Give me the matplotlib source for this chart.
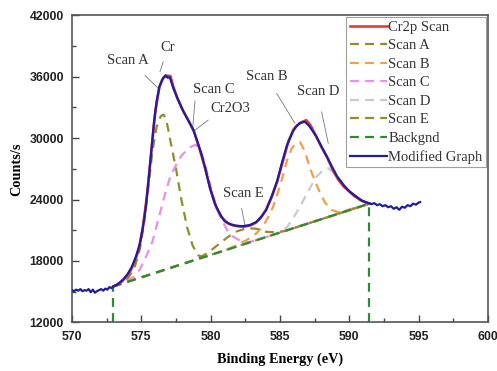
import matplotlib
matplotlib.use("Agg")
import matplotlib.pyplot as plt
from matplotlib.ticker import MultipleLocator

# ---------------- data ----------------
fit_x = [570.0, 570.15, 570.3, 570.45, 570.6, 570.75, 570.9, 571.05, 571.2, 571.35, 571.5,
         571.65, 571.8, 571.95, 572.1, 572.25, 572.4, 572.55, 572.7, 572.85, 573.0, 573.2,
         573.4, 573.7, 574.0, 574.3, 574.6, 574.9, 575.1, 575.3, 575.5, 575.7, 575.9, 576.1,
         576.3, 576.5, 576.75, 576.9, 577.05, 577.3, 577.6, 578.0, 578.4, 578.75, 579.0,
         579.3, 579.6, 579.95, 580.3, 580.7, 581.0, 581.4, 581.8, 582.3, 582.8, 583.3, 583.7,
         584.0, 584.4, 584.8, 585.1, 585.5, 585.9, 586.2, 586.5, 586.8, 587.1, 587.6, 588.1,
         588.6, 589.1, 589.6, 590.0, 590.5, 590.9, 591.3, 591.6, 591.8, 592.0, 592.2, 592.4,
         592.6, 592.8, 593.0, 593.2, 593.4, 593.6, 593.8, 594.0, 594.2, 594.4, 594.6, 594.8,
         595.0, 595.1]
fit_y = [15150, 15050, 15200, 15100, 15250, 15050, 15150, 15100, 15250, 14950, 15200,
         14900, 15050, 15150, 15250, 15100, 15300, 15200, 15450, 15350, 15550, 15650,
         15850, 16200, 16700, 17400, 18400, 19700, 21200, 23000, 25600, 28500, 31400, 33600,
         35000, 35700, 36150, 35900, 35950, 34900, 33900, 32700, 31700, 30800, 29800,
         28600, 27100, 25100, 23600, 22500, 21900, 21600, 21450, 21400, 21500, 21800, 22400,
         23000, 24300, 25800, 27400, 29300, 30600, 31200, 31500, 31600, 31200, 30200, 28900,
         27600, 26300, 25400, 24800, 24300, 23900, 23700, 23550, 23650, 23450, 23550, 23350,
         23450, 23250, 23350, 23100, 23250, 23000, 23300, 23200, 23450, 23350, 23600, 23500,
         23700, 23750]

scan_x = [573.0, 573.3, 573.6, 573.9, 574.2, 574.5, 574.8, 575.1, 575.4, 575.7, 576.0, 576.3,
          576.6, 576.9, 577.1, 577.3, 577.6, 578.0, 578.4, 578.8, 579.2, 579.6, 580.0, 580.4,
          580.8, 581.2, 581.6, 582.0, 582.4, 582.8, 583.2, 583.6, 584.0, 584.4, 584.8, 585.2,
          585.6, 586.0, 586.4, 586.7, 586.9, 587.2, 587.6, 588.0, 588.4, 588.8, 589.2, 589.6,
          590.0, 590.4, 590.8, 591.2, 591.5]
scan_y = [15520, 15720, 16000, 16450, 17000, 17850, 19050, 21200, 24300, 28400, 32500, 35000,
          35950, 36100, 36050, 35050, 33900, 32700, 31700, 30650, 28950, 27050, 24950, 23250,
          22250, 21700, 21480, 21380, 21350, 21450, 21700, 22200, 23000, 24250, 25800, 27700,
          29650, 30900, 31450, 31650, 31750, 31250, 30200, 29100, 28150, 26900, 25950, 25250,
          24800, 24300, 23950, 23700, 23600]

bg_x = [572.95, 591.45]
bg_y = [15500, 23600]

a_x = [572.95, 573.5, 574.0, 574.5, 574.9, 575.2, 575.5, 575.8, 576.1, 576.4, 576.6, 576.8,
       577.1, 577.5, 577.9, 578.3, 578.7, 579.1, 579.5, 591.45]
a_y = [15500, 15780, 16250, 17300, 19200, 21700, 25100, 28700, 31100, 32150, 32300, 31800,
       29700, 27000, 23900, 21300, 19500, 18550, 18370, 23600]

b_x = [572.95, 581.0, 581.8, 582.6, 583.3, 583.8, 584.15, 584.5, 584.9, 585.2, 585.5, 585.85,
       586.15, 586.45, 586.8, 587.15, 587.5, 587.9, 588.25, 588.7, 589.2, 589.8, 591.45]
b_y = [15500, 19030, 19500, 20050, 20700, 21450, 22300, 23300, 24900, 26300, 27800, 29000,
       29500, 29600, 28700, 27100, 25900, 24600, 23700, 23000, 22750, 22950, 23600]

c_x = [572.95, 573.8, 574.5, 574.9, 575.4, 575.8, 576.35, 576.7, 577.1, 577.55, 577.9, 578.5,
       578.9, 579.2, 579.5, 579.8, 580.1, 580.4, 580.8, 581.2, 581.6, 582.1, 582.6, 583.2,
       591.45]
c_y = [15500, 15900, 16500, 17200, 18600, 19900, 22700, 24500, 26300, 27500, 28300, 29100,
       29350, 29000, 27900, 26300, 24700, 23300, 22000, 21000, 20400, 20000, 19800, 19990,
       23600]

d_x = [572.95, 585.0, 585.5, 586.0, 586.45, 586.9, 587.2, 587.6, 588.1, 588.5, 588.9, 589.3,
       589.7, 590.1, 590.6, 591.1, 591.45]
d_y = [15500, 20780, 21300, 22300, 23300, 24500, 25200, 26200, 26850, 27050, 26600, 25900,
       25200, 24600, 24000, 23700, 23600]

e_x = [572.95, 579.0, 579.8, 580.5, 581.2, 581.9, 582.6, 583.3, 584.0, 584.7, 585.4, 591.45]
e_y = [15500, 18180, 18800, 19550, 20300, 20900, 21200, 21150, 20850, 20800, 20950, 23600]

legend_labels = ["Cr2p Scan", "Scan A", "Scan B", "Scan C", "Scan D", "Scan E",
                 "Backgnd", "Modified Graph"]

# annotations: label, text position, leader start, leader end
ann_labels = ["Cr", "Scan A", "Scan C", "Cr2O3", "Scan B", "Scan D", "Scan E"]
ann_text_xy = [(576.92, 38900), (574.06, 37620), (580.19, 34760), (581.39, 32910),
               (584.04, 36000), (587.76, 34530), (582.35, 24610)]
ann_from = [(576.58, 37460), (575.26, 36130), (578.87, 33650), (579.83, 31770),
            (584.76, 34370), (588.0, 32580), (582.23, 23140)]
ann_to = [(576.34, 36480), (576.22, 34860), (578.7, 30960), (578.87, 30780),
          (586.08, 31440), (588.48, 29490), (582.47, 21510)]

# ---------------- styling ----------------
serif = ["Liberation Serif", "DejaVu Serif"]
sans = ["Liberation Sans", "DejaVu Sans"]

col_red = "#e8383a"
col_a = "#8f8f2a"
col_b = "#f0a048"
col_c = "#e690e6"
col_d = "#c9c9d2"
col_e = "#9a8a2c"
col_bg = "#2f8a2f"
col_blue = "#1e1e9e"

fig = plt.figure(figsize=(4.97, 3.71), dpi=100)
ax = fig.add_axes([0.1449, 0.131, 0.8370, 0.8278])

lw_d = 1.6
dash = (4, 2.8)

ax.plot(scan_x, scan_y, color=col_red, lw=1.9, label=legend_labels[0], zorder=3)
ax.plot(a_x, a_y, color=col_a, lw=lw_d, dashes=dash, label=legend_labels[1], zorder=2)
ax.plot(b_x, b_y, color=col_b, lw=lw_d, dashes=dash, label=legend_labels[2], zorder=2)
ax.plot(c_x, c_y, color=col_c, lw=lw_d, dashes=dash, label=legend_labels[3], zorder=2)
ax.plot(d_x, d_y, color=col_d, lw=lw_d, dashes=dash, label=legend_labels[4], zorder=2)
ax.plot(e_x, e_y, color=col_e, lw=lw_d, dashes=dash, label=legend_labels[5], zorder=2)
ax.plot(bg_x, bg_y, color=col_bg, lw=lw_d, dashes=dash, label=legend_labels[6], zorder=2.5)
ax.plot([bg_x[0], bg_x[0]], [12000, bg_y[0]], color=col_bg, lw=lw_d, dashes=dash, zorder=2.5)
ax.plot([bg_x[1], bg_x[1]], [12000, bg_y[1]], color=col_bg, lw=lw_d, dashes=dash, zorder=2.5)
ax.plot(fit_x, fit_y, color=col_blue, lw=1.6, label=legend_labels[7], zorder=4)

for lab, txy, p0, p1 in zip(ann_labels, ann_text_xy, ann_from, ann_to):
    ax.text(txy[0], txy[1], lab, ha="center", va="center", fontsize=10.5,
            family=serif, color="#333333")
    ax.annotate("", xy=p1, xytext=p0,
                arrowprops=dict(arrowstyle="-", color="#777777", lw=0.6,
                                shrinkA=0, shrinkB=0))

ax.set_xlim(570, 600)
ax.set_ylim(12000, 42000)
ax.xaxis.set_major_locator(MultipleLocator(5))
ax.xaxis.set_minor_locator(MultipleLocator(2.5))
ax.yaxis.set_major_locator(MultipleLocator(6000))
ax.yaxis.set_minor_locator(MultipleLocator(3000))
ax.tick_params(which="both", direction="in", top=False, right=False, color="#444444")
ax.tick_params(which="major", length=5, width=1, pad=6)
ax.tick_params(which="minor", length=3, width=1)
for lbl in ax.get_xticklabels() + ax.get_yticklabels():
    lbl.set_family(sans)
    lbl.set_fontweight("bold")
    lbl.set_fontsize(8.8)
    lbl.set_color("#222222")
for sp in ax.spines.values():
    sp.set_color("#555555")
    sp.set_linewidth(1.2)

ax.set_xlabel("Binding Energy (eV)", family=serif, fontweight="bold", fontsize=10.3,
              labelpad=7)
ax.set_ylabel("Counts/s", family=serif, fontweight="bold", fontsize=10.3, labelpad=4)

leg = ax.legend(loc="upper right", prop={"family": serif, "size": 10.5},
                handlelength=2.55, handletextpad=0.1, labelspacing=0.36,
                borderpad=0.25, borderaxespad=0.12, frameon=True, fancybox=False)
leg.get_frame().set_edgecolor("#888888")
leg.get_frame().set_linewidth(0.8)
for t in leg.get_texts():
    t.set_color("#333333")

fig.savefig("out.png", dpi=100)
